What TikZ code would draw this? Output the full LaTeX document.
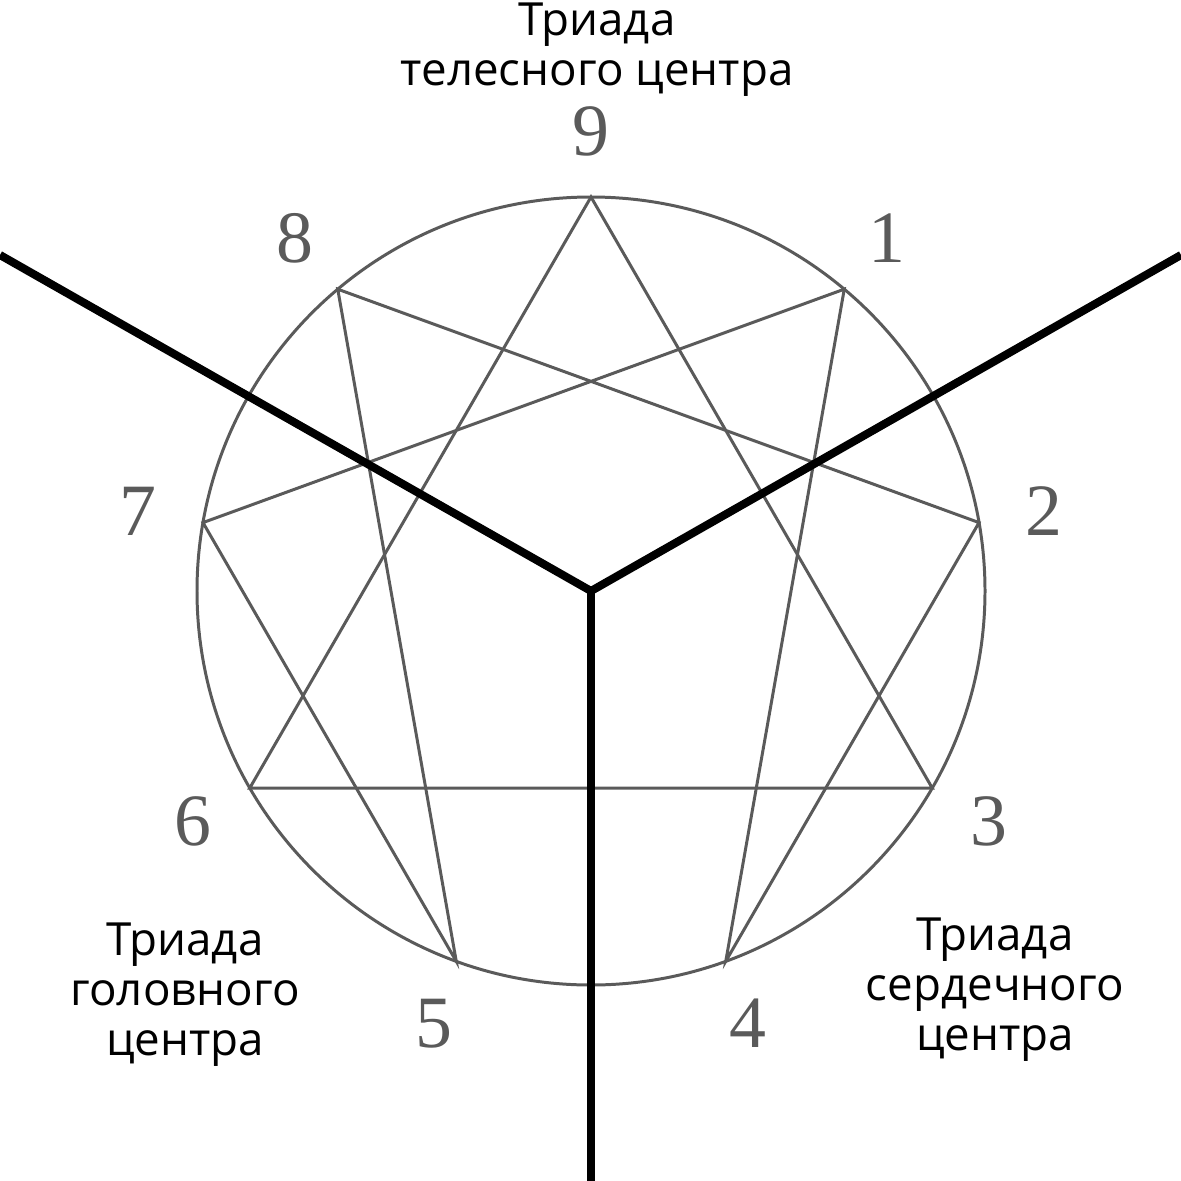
\documentclass[tikz,border=0pt]{standalone}
\usepackage{fontspec}
\setmainfont{Liberation Serif}
\setsansfont{Open Sans}
\usetikzlibrary{calc}
\definecolor{enngray}{RGB}{90,90,90}
\begin{document}
\begin{tikzpicture}
    \tikzstyle{ennline}=[enngray,line width=0.85pt]
    \tikzstyle{divline}=[black,line width=2.3pt]
    \tikzstyle{numlbl}=[enngray,font=\fontsize{21}{21}\selectfont]
    \tikzstyle{triad}=[align=center,font=\sffamily\fontsize{13}{14.2}\selectfont]

    \useasboundingbox (0, 0) rectangle (11.81, -11.81);
    \coordinate (c) at (5.91, -5.91);

    \draw[ennline] (c) circle (3.94);
    \foreach \k in {0,...,8} {
        \coordinate (p\k) at ($(c) + ({90 - 40*\k}:3.94)$);
        \node[numlbl] (n\k) at ($(c) + ({90 - 40*\k}:4.6)$) {\ifnum\k=0 9\else\k\fi};
    }
    \draw[ennline] (p0) -- (p3) -- (p6) -- cycle;
    \draw[ennline] (p1) -- (p4) -- (p2) -- (p8) -- (p5) -- (p7) -- cycle;

    \coordinate (d1) at (0, -2.55);
    \coordinate (d2) at (11.81, -2.55);
    \coordinate (d3) at (5.91, -11.81);
    \foreach \d in {d1, d2, d3} {
        \draw[divline] (c) -- (\d);
    }

    \node[triad] (tbody) at (5.97, -0.5) {Триада\\телесного центра};
    \node[triad] (thead) at (1.85, -9.95) {Триада\\головного\\центра};
    \node[triad] (theart) at (9.95, -9.9) {Триада\\сердечного\\центра};
\end{tikzpicture}
\end{document}
